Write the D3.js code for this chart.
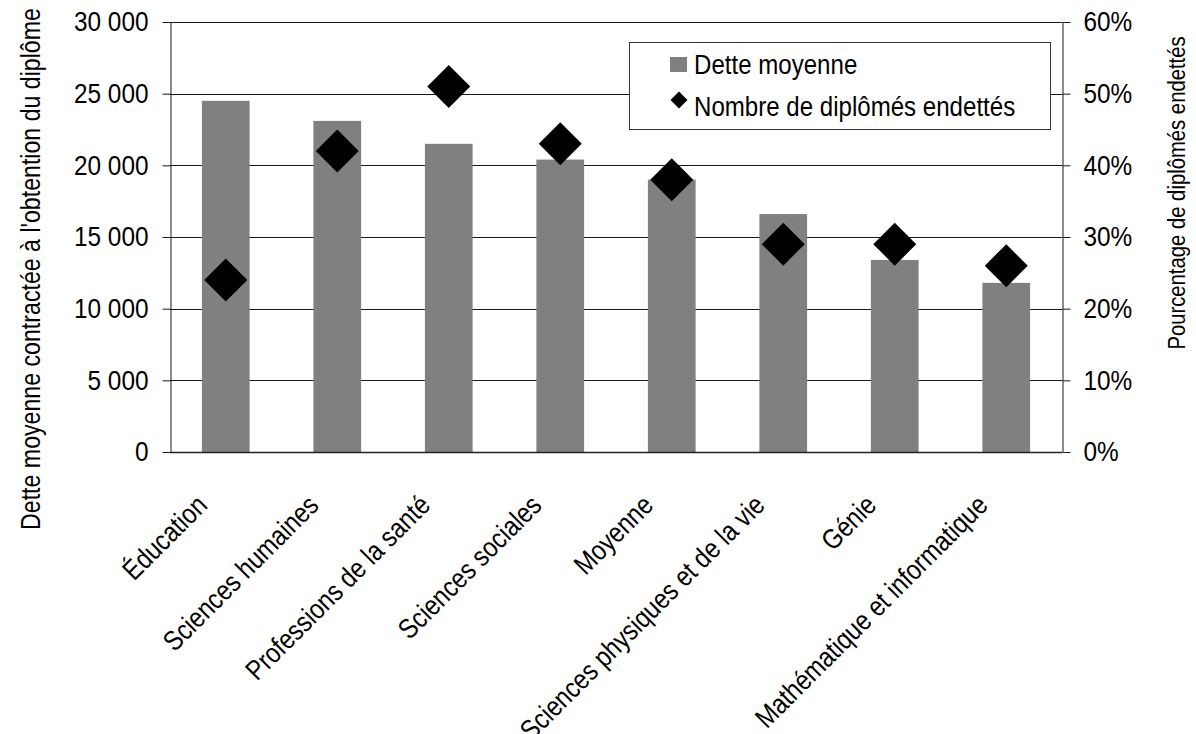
<!DOCTYPE html>
<html>
<head>
<meta charset="utf-8">
<script src="https://cdn.jsdelivr.net/npm/d3@7"></script>
<style>
    body { margin: 0; background: white; }
    svg { display: block; font-family: "Liberation Sans", Arial, sans-serif; }
</style>
</head>
<body>
<svg></svg>
<script>
const categories = [
    "Éducation",
    "Sciences humaines",
    "Professions de la santé",
    "Sciences sociales",
    "Moyenne",
    "Sciences physiques et de la vie",
    "Génie",
    "Mathématique et informatique"
]
const detteMoyenne = [24500, 23100, 21500, 20400, 19000, 16600, 13400, 11800]
const pctEndettes = [24, 42, 51, 43, 38, 29, 29, 26]
const detteTicks = [0, 5000, 10000, 15000, 20000, 25000, 30000]
const pctTicks = [0, 10, 20, 30, 40, 50, 60]

const width = 1196
const height = 734
const margin = { top: 22, bottom: 282, left: 170, right: 134 }
const innerWidth = width - margin.left - margin.right
const innerHeight = height - margin.top - margin.bottom
const fontSize = 28

const frLocale = d3.formatLocale({ decimal: ",", thousands: " ", grouping: [3], currency: ["", " $"] })
const fmtDette = frLocale.format(",")

// no condensed font installed: squeeze the regular one horizontally around its anchor
function squeeze(sel, k = 0.84) {
    sel.each(function () {
        const t = d3.select(this)
        const x0 = +(t.attr('x') || 0)
        t.attr('transform', `${t.attr('transform') || ''} translate(${x0},0) scale(${k},1) translate(${-x0},0)`)
    })
}

const svg = d3.select('svg')
    .attr('width', width)
    .attr('height', height)

const g = svg.append('g')
    .attr('transform', `translate(${margin.left},${margin.top})`)

const x = d3.scaleBand()
    .domain(categories)
    .range([0, innerWidth])
    .paddingInner(0.572)
    .paddingOuter(0.286)

const y = d3.scaleLinear()
    .domain([0, 30000])
    .range([innerHeight, 0])

const y2 = d3.scaleLinear()
    .domain([0, 60])
    .range([innerHeight, 0])

// gridlines
g.append('g')
    .selectAll('line')
    .data(detteTicks)
    .enter()
    .append('line')
    .attr('x1', 0)
    .attr('x2', innerWidth)
    .attr('y1', d => Math.round(y(d)) + 0.5)
    .attr('y2', d => Math.round(y(d)) + 0.5)
    .attr('stroke', '#1a1a1a')
    .attr('stroke-width', 1)

// bars
g.selectAll('.bar')
    .data(categories)
    .enter()
    .append('rect')
    .attr('class', 'bar')
    .attr('x', d => x(d))
    .attr('width', x.bandwidth())
    .attr('y', (d, i) => y(detteMoyenne[i]))
    .attr('height', (d, i) => innerHeight - y(detteMoyenne[i]))
    .attr('fill', '#808080')

// axes
g.append('g')
    .attr('transform', 'translate(0.5,0)')
    .call(d3.axisLeft(y).tickValues(detteTicks).tickFormat(fmtDette).tickSize(8).tickSizeOuter(0).tickPadding(14))

g.append('g')
    .attr('transform', `translate(${innerWidth + 0.5},0)`)
    .call(d3.axisRight(y2).tickValues(pctTicks).tickFormat(d => d + '%').tickSize(8).tickSizeOuter(0).tickPadding(13))

g.append('line')
    .attr('x1', 0)
    .attr('x2', innerWidth)
    .attr('y1', innerHeight + 0.5)
    .attr('y2', innerHeight + 0.5)
    .attr('stroke', '#222')
    .attr('stroke-width', 1.5)

svg.selectAll('.tick text')
    .attr('font-size', fontSize)
    .attr('font-family', null)
    .attr('fill', '#000')
    .call(squeeze, 0.87)
svg.selectAll('.domain, .tick line').attr('stroke', '#1a1a1a')

// diamonds
const diamond = d3.symbol().type(d3.symbolSquare).size(924)
g.selectAll('.pt')
    .data(categories)
    .enter()
    .append('path')
    .attr('class', 'pt')
    .attr('d', diamond)
    .attr('transform', (d, i) => `translate(${x(d) + x.bandwidth() / 2},${y2(pctEndettes[i])}) rotate(45)`)
    .attr('fill', '#000')

// category labels
g.append('g')
    .selectAll('text')
    .data(categories)
    .enter()
    .append('text')
    .attr('transform', d => `translate(${x(d) + x.bandwidth() / 2 - 17},${innerHeight + 55}) rotate(-45)`)
    .attr('text-anchor', 'end')
    .attr('font-size', fontSize)
    .text(d => d)
    .call(squeeze, 0.85)

// axis titles
svg.append('text')
    .attr('transform', 'translate(30,269) rotate(-90)')
    .attr('text-anchor', 'middle')
    .attr('dy', '0.35em')
    .attr('font-size', fontSize)
    .text("Dette moyenne contractée à l'obtention du diplôme")
    .call(squeeze, 0.827)

svg.append('text')
    .attr('transform', 'translate(1177,193) rotate(-90)')
    .attr('text-anchor', 'middle')
    .attr('dy', '0.35em')
    .attr('font-size', 24)
    .text('Pourcentage de diplômés endettés')
    .call(squeeze, 0.845)

// legend
const legend = svg.append('g').attr('id', 'legend')
legend.append('rect')
    .attr('x', 629.5)
    .attr('y', 42.5)
    .attr('width', 421)
    .attr('height', 87)
    .attr('fill', 'white')
    .attr('stroke', '#333')

legend.append('rect')
    .attr('x', 670)
    .attr('y', 57)
    .attr('width', 17)
    .attr('height', 15)
    .attr('fill', '#808080')

legend.append('path')
    .attr('d', d3.symbol().type(d3.symbolSquare).size(144))
    .attr('transform', 'translate(679,100) rotate(45)')
    .attr('fill', '#000')

legend.append('text')
    .attr('x', 694)
    .attr('y', 74)
    .attr('font-size', fontSize)
    .text('Dette moyenne')
    .call(squeeze, 0.86)

legend.append('text')
    .attr('x', 694)
    .attr('y', 116)
    .attr('font-size', fontSize)
    .text('Nombre de diplômés endettés')
    .call(squeeze, 0.86)
</script>
</body>
</html>
